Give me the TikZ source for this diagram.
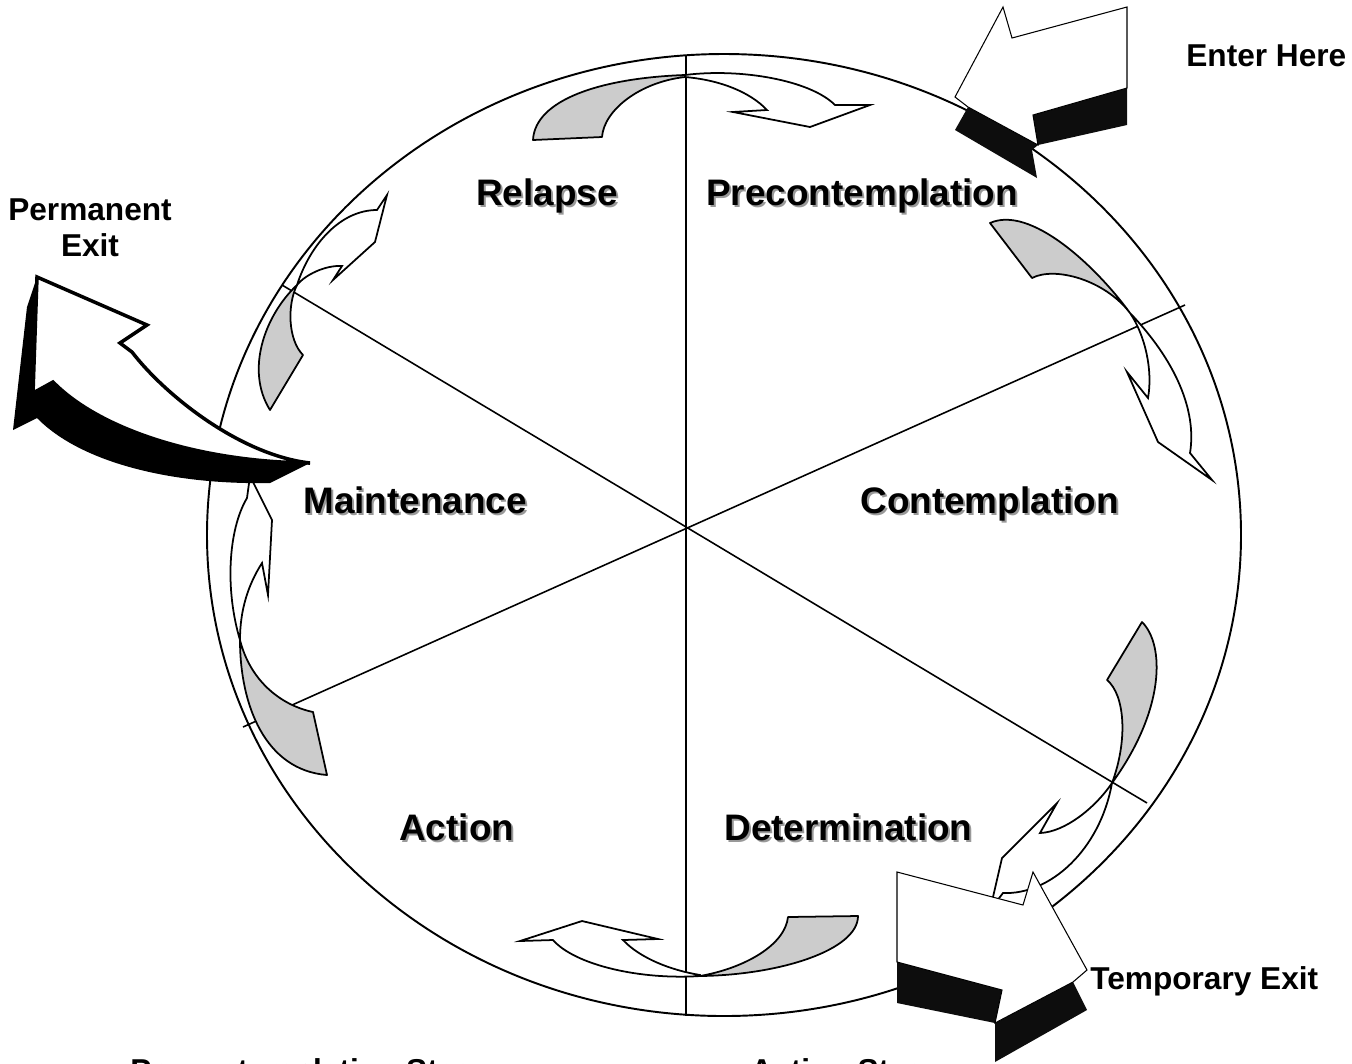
\documentclass[tikz,border=0pt]{standalone}
\usepackage{fontspec}
\setmainfont{Liberation Sans}
\begin{document}
\begin{tikzpicture}[x=0.02cm,y=-0.02cm,
  ring/.style={line width=1.1pt},
  spoke/.style={line width=0.9pt},
  tailpart/.style={draw=black,fill=black!20,line width=1pt,line join=round},
  headpart/.style={draw=black,fill=white,line width=1pt,line join=miter},
  blockface/.style={draw=black,fill=white,line width=0.6pt},
  blockside/.style={fill=black!95},
  stagelbl/.style={font=\fontsize{21}{24}\selectfont\bfseries,inner sep=0pt,anchor=base west},
  stageshadow/.style={stagelbl,text=black!40},
  sidelbl/.style={font=\fontsize{18}{21}\selectfont\bfseries,inner sep=0pt}]
\useasboundingbox (0,0) rectangle (1352,1063);
\clip (0,0) rectangle (1352,1063);

% wheel
\draw[ring] (724,535) ellipse [x radius=517, y radius=481];
\coordinate (c) at (686,527);
\coordinate (sT) at (686,55);
\coordinate (sB) at (686,1016);
\coordinate (sUL) at (282,285);
\coordinate (sLR) at (1147,803);
\coordinate (sUR) at (1185,305);
\coordinate (sLL) at (243,727);
\draw[spoke] (sT) -- (sB);
\draw[spoke] (sUL) -- (sLR);
\draw[spoke] (sUR) -- (sLL);

% arrow 1 (top)
\draw[tailpart] (533,140) -- (602,137) .. controls (604,110) and (640,82) .. (685,77)
  .. controls (685,76) and (685,75) .. (685,75) .. controls (600,78) and (535,100) .. (533,140) -- cycle;
\draw[headpart] (685,75) .. controls (740,68) and (810,80) .. (835,105) -- (870,105) -- (810,127)
  -- (733,112) -- (767,110) .. controls (750,92) and (720,80) .. (685,77) -- cycle;

% arrow 2 (upper right)
\draw[tailpart] (990,223) -- (1032,278) .. controls (1055,266) and (1105,280) .. (1130,313)
  .. controls (1095,265) and (1030,205) .. (990,223) -- cycle;
\draw[headpart] (1130,313) .. controls (1175,360) and (1197,410) .. (1190,453) -- (1212,480)
  -- (1158,442) -- (1127,372) -- (1148,398) .. controls (1153,370) and (1145,335) .. (1130,313) -- cycle;

% arrow 3 (lower right)
\draw[tailpart] (1142,622) .. controls (1165,645) and (1165,710) .. (1112,783)
  .. controls (1128,740) and (1125,695) .. (1107,680) -- cycle;
\draw[headpart] (1112,783) .. controls (1095,808) and (1065,832) .. (1040,833) -- (1057,803)
  -- (1002,858) -- (990,910) -- (1003,893) .. controls (1050,895) and (1100,850) .. (1112,783) -- cycle;

% arrow 4 (bottom)
\draw[tailpart] (788,917) -- (858,916) .. controls (858,950) and (780,975) .. (700,976)
  .. controls (745,968) and (785,945) .. (788,917) -- cycle;
\draw[headpart] (700,976) .. controls (640,980) and (575,965) .. (553,940) -- (520,941) -- (582,921)
  -- (658,939) -- (623,940) .. controls (640,958) and (670,970) .. (700,975) -- cycle;

% arrow 5 (lower left)
\draw[tailpart] (327,775) -- (313,712) .. controls (280,705) and (250,680) .. (240,640)
  .. controls (240,705) and (265,770) .. (327,775) -- cycle;
\draw[headpart] (240,640) .. controls (225,590) and (228,530) .. (247,498) -- (250,476) -- (272,520)
  -- (268,595) -- (262,563) .. controls (248,585) and (240,610) .. (240,640) -- cycle;

% arrow 6 (upper left)
\draw[tailpart] (270,410) -- (303,355) .. controls (288,340) and (287,305) .. (297,285)
  .. controls (265,315) and (245,370) .. (270,410) -- cycle;
\draw[headpart] (297,285) .. controls (310,245) and (340,210) .. (377,210) -- (387,195) -- (375,242)
  -- (333,280) -- (342,266) .. controls (325,265) and (305,275) .. (297,285) -- cycle;

% Permanent exit arrow
\fill[black] (37,277) -- (27,307) -- (13,430) -- (37,418) .. controls (80,462) and (170,485) .. (270,483)
  -- (310,463) .. controls (200,462) and (100,430) .. (53,382) -- (33,393) -- cycle;
\draw[line width=2pt,fill=white,line join=miter] (37,277) -- (147,325) -- (120,343) -- (132,352)
  .. controls (165,395) and (240,455) .. (310,463) .. controls (200,462) and (100,430) .. (53,382)
  -- (33,393) -- cycle;

% Enter here arrow
\fill[blockside] (968,107) -- (955,130) -- (1037,178) -- (1032,150) -- (1038,145) -- cycle;
\fill[blockside] (1033,115) -- (1127,88) -- (1127,125) -- (1038,145) -- cycle;
\draw[blockface] (1003,7) -- (1012,38) -- (1127,7) -- (1127,88) -- (1033,115) -- (1038,145)
  -- (968,107) -- (955,97) -- cycle;

% Temporary exit arrow
\fill[blockside] (897,962) -- (1002,990) -- (995,1023) -- (897,1003) -- cycle;
\fill[blockside] (995,1023) -- (1073,982) -- (1087,1010) -- (995,1062) -- cycle;
\draw[blockface] (897,872) -- (1023,905) -- (1033,872) -- (1087,970) -- (1073,982) -- (995,1023)
  -- (1002,990) -- (897,962) -- cycle;

% stage labels
\node[stageshadow] (relapseS) at (478,207) {Relapse};
\node[stagelbl] (relapse) at (476,205) {Relapse};
\node[stageshadow] (precS) at (708,207) {Precontemplation};
\node[stagelbl] (prec) at (706,205) {Precontemplation};
\node[stageshadow] (maintS) at (305,515) {Maintenance};
\node[stagelbl] (maint) at (303,513) {Maintenance};
\node[stageshadow] (contS) at (862,515) {Contemplation};
\node[stagelbl] (cont) at (860,513) {Contemplation};
\node[stageshadow] (actS) at (401,842) {Action};
\node[stagelbl] (act) at (399,840) {Action};
\node[stageshadow] (detS) at (726,842) {Determination};
\node[stagelbl] (det) at (724,840) {Determination};

% side labels
\node[sidelbl,anchor=base west] (enter) at (1186,66) {Enter Here};
\node[sidelbl,anchor=base west] (temp) at (1090,989) {Temporary Exit};
\node[sidelbl,anchor=base] (perm1) at (90,220) {Permanent};
\node[sidelbl,anchor=base] (perm2) at (90,256) {Exit};
\node[sidelbl,anchor=base west] (pstage) at (130,1081) {Precontemplation Stage};
\node[sidelbl,anchor=base west] (astage) at (750,1081) {Action Stage};
\end{tikzpicture}
\end{document}
